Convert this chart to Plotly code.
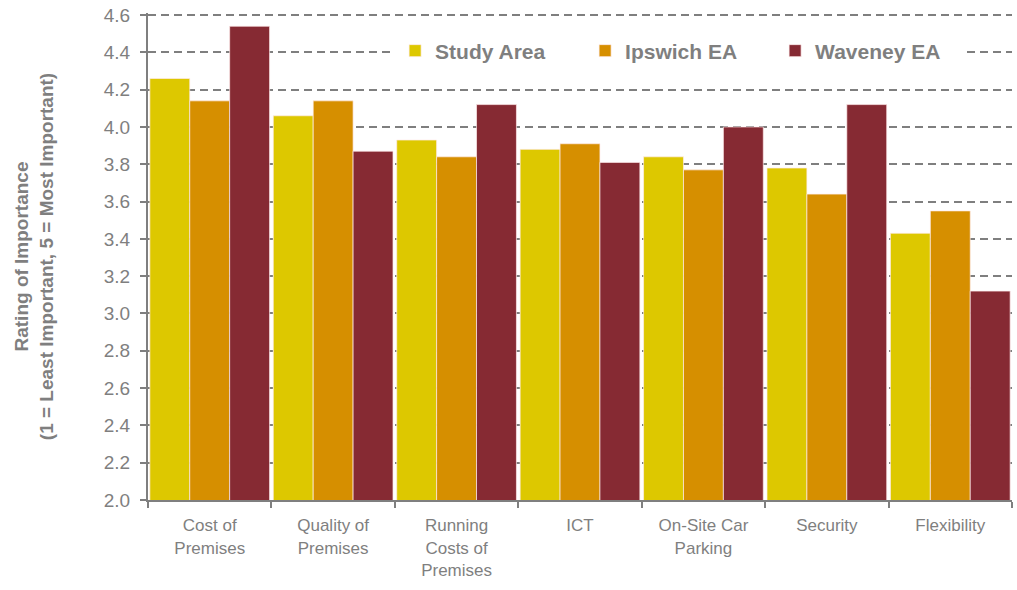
import plotly.graph_objects as go

categories = ["Cost of<br>Premises", "Quality of<br>Premises", "Running<br>Costs of<br>Premises",
              "ICT", "On-Site Car<br>Parking", "Security", "Flexibility"]
study_area = [4.26, 4.06, 3.93, 3.88, 3.84, 3.78, 3.43]
ipswich_ea = [4.14, 4.14, 3.84, 3.91, 3.77, 3.64, 3.55]
waveney_ea = [4.54, 3.87, 4.12, 3.81, 4.00, 4.12, 3.12]
y_ticks = [2.0, 2.2, 2.4, 2.6, 2.8, 3.0, 3.2, 3.4, 3.6, 3.8, 4.0, 4.2, 4.4, 4.6]

series = [("Study Area", study_area, "#DDC800"),
          ("Ipswich EA", ipswich_ea, "#D68F00"),
          ("Waveney EA", waveney_ea, "#862A33")]

fig = go.Figure()
for name, vals, col in series:
    fig.add_trace(go.Bar(x=categories, y=vals, name=name,
                         marker=dict(color=col, line=dict(color="rgba(255,235,235,0.7)", width=1))))

grey = "#7f7f7f"
fig.update_layout(
    width=1017, height=590,
    margin=dict(l=148, r=5, t=13, b=90),
    paper_bgcolor="white", plot_bgcolor="white",
    barmode="group", bargap=0.03, bargroupgap=0,
    font=dict(family="Liberation Sans, Arial, sans-serif", color=grey, size=16),
    legend=dict(orientation="h", x=0.286, y=0.922, xanchor="left", yanchor="middle",
                bgcolor="white", font=dict(size=21, color=grey, weight="bold"),
                entrywidth=145, entrywidthmode="pixels", itemwidth=30,
                traceorder="normal"),
    showlegend=True,
)
fig.update_yaxes(range=[2.0, 4.611], tickvals=y_ticks, tickformat=".1f",
                 showgrid=True, gridcolor=grey, griddash="8px,5px", gridwidth=2,
                 showline=True, linecolor=grey, linewidth=2,
                 ticks="outside", ticklen=6, tickcolor=grey, tickwidth=2,
                 ticklabelstandoff=6, ticklabeloverflow="allow", automargin="left",
                 tickfont=dict(size=19, color=grey),
                 title=dict(text="Rating of Importance<br>(1 = Least Important, 5 = Most Important)",
                            font=dict(size=19, color=grey, weight="bold"), standoff=45),
                 zeroline=False)
fig.update_xaxes(showline=True, linecolor=grey, linewidth=2,
                 ticks="outside", tickson="boundaries", ticklen=6, tickcolor=grey, tickwidth=2,
                 ticklabelstandoff=9,
                 tickfont=dict(size=17, color=grey),
                 showgrid=False)

fig.write_html("out.html", config={"displayModeBar": False},
               post_script="document.body.style.margin='0';")
